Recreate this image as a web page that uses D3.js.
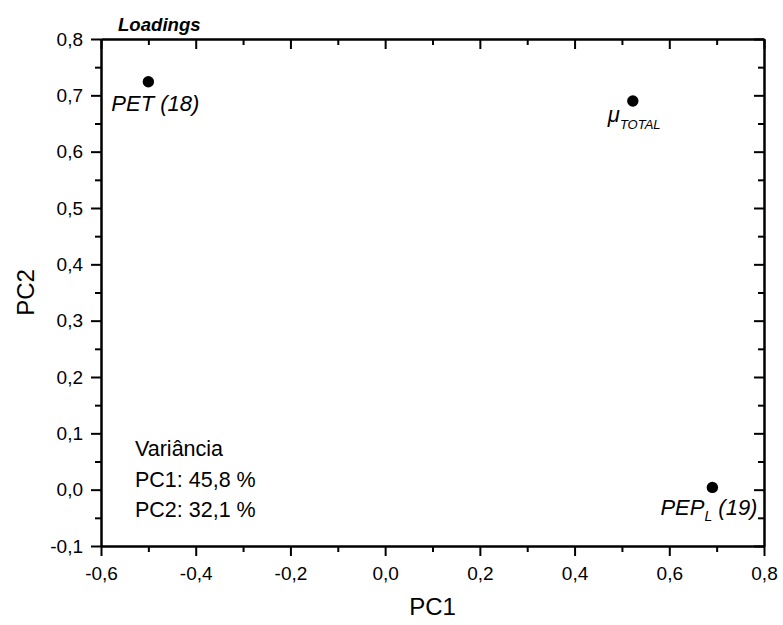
<!DOCTYPE html>
<html><head><meta charset="utf-8">
<script src="https://cdn.jsdelivr.net/npm/d3@7"></script>
<style>body{margin:0;background:#fff;} text{font-family:"Liberation Sans",Arial,sans-serif;}</style>
</head><body><svg id="c" width="783" height="625"></svg>
<script>
const names = ["PET (18)", "μTOTAL", "PEP_L (19)"];
const pc1 = [-0.50, 0.523, 0.691];
const pc2 = [0.724, 0.690, 0.004];
const xTicks = [-0.6, -0.4, -0.2, 0.0, 0.2, 0.4, 0.6, 0.8];
const yTicks = [-0.1, 0.0, 0.1, 0.2, 0.3, 0.4, 0.5, 0.6, 0.7, 0.8];
const varianceLines = ["Variância", "PC1: 45,8 %", "PC2: 32,1 %"];

const svg = d3.select("#c");
const L = 101, R = 764, T = 39, B = 546;
const x = d3.scaleLinear().domain([-0.6, 0.8]).range([L, R]);
const y = d3.scaleLinear().domain([-0.1, 0.8]).range([B, T]);
const fmt = d => d3.format(".1f")(d).replace(".", ",").replace("−", "-");
const xMinor = d3.range(-0.5, 0.8, 0.2).map(v => +v.toFixed(2));
const yMinor = d3.range(-0.05, 0.8, 0.1).map(v => +v.toFixed(3));

function styleAxis(g) {
  g.attr("font-size", 19).attr("font-family", null);
  g.selectAll("path").attr("stroke", "#000").attr("stroke-width", 2);
  g.selectAll("line").attr("stroke", "#000").attr("stroke-width", 2);
  g.selectAll("text").attr("font-size", 19).attr("fill", "#000");
}
// bottom
svg.append("g").attr("transform", `translate(0,${B})`)
  .call(d3.axisBottom(x).tickValues(xTicks).tickFormat(fmt).tickSize(10).tickPadding(11).tickSizeOuter(0)).call(styleAxis);
svg.append("g").attr("transform", `translate(0,${B})`)
  .call(d3.axisBottom(x).tickValues(xMinor).tickFormat("").tickSize(6).tickSizeOuter(0)).call(styleAxis);
// left
svg.append("g").attr("transform", `translate(${L},0)`)
  .call(d3.axisLeft(y).tickValues(yTicks).tickFormat(fmt).tickSize(10).tickPadding(8).tickSizeOuter(0)).call(styleAxis);
svg.append("g").attr("transform", `translate(${L},0)`)
  .call(d3.axisLeft(y).tickValues(yMinor).tickFormat("").tickSize(6).tickSizeOuter(0)).call(styleAxis);
// top (inside ticks)
svg.append("g").attr("transform", `translate(0,${T})`)
  .call(d3.axisTop(x).tickValues(xTicks).tickFormat("").tickSize(-10).tickSizeOuter(0)).call(styleAxis);
svg.append("g").attr("transform", `translate(0,${T})`)
  .call(d3.axisTop(x).tickValues(xMinor).tickFormat("").tickSize(-6).tickSizeOuter(0)).call(styleAxis);
// right (inside ticks)
svg.append("g").attr("transform", `translate(${R},0)`)
  .call(d3.axisRight(y).tickValues(yTicks).tickFormat("").tickSize(-10).tickSizeOuter(0)).call(styleAxis);
svg.append("g").attr("transform", `translate(${R},0)`)
  .call(d3.axisRight(y).tickValues(yMinor).tickFormat("").tickSize(-6).tickSizeOuter(0)).call(styleAxis);

// points
svg.selectAll("circle.pt").data(pc1).enter().append("circle")
  .attr("cx", (d) => x(d)).attr("cy", (d, i) => y(pc2[i])).attr("r", 5.7).attr("fill", "#000");

// labels
const lab = svg.append("g").attr("font-style", "italic").attr("font-size", 22).attr("fill", "#000");
// PET
lab.append("text").attr("x", x(pc1[0]) - 37).attr("y", y(pc2[0]) + 29).text(names[0]);
// mu TOTAL
const mu = lab.append("text").attr("x", x(pc1[1]) - 25).attr("y", y(pc2[1]) + 21);
mu.append("tspan").text("μ");
mu.append("tspan").attr("font-size", 13).attr("dy", 7).text("TOTAL");
// PEP_L
const pep = lab.append("text").attr("x", x(pc1[2]) - 52).attr("y", y(pc2[2]) + 28);
pep.append("tspan").text("PEP");
pep.append("tspan").attr("font-size", 14).attr("dy", 6).text("L");
pep.append("tspan").attr("dy", -6).text(" (19)");

// variance text
svg.append("g").selectAll("text").data(varianceLines).enter().append("text")
  .attr("x", 135).attr("y", (d, i) => 456 + i * 30.5).attr("font-size", 21.5).text(d => d);

// title
svg.append("text").attr("x", 118).attr("y", 31).attr("font-size", 18.6)
  .attr("font-weight", "bold").attr("font-style", "italic").text("Loadings");
// axis titles
svg.append("text").attr("x", (L + R) / 2).attr("y", 615).attr("text-anchor", "middle")
  .attr("font-size", 24).text("PC1");
svg.append("text").attr("transform", `translate(34,${(T + B) / 2}) rotate(-90)`)
  .attr("text-anchor", "middle").attr("font-size", 24).text("PC2");
</script></body></html>
